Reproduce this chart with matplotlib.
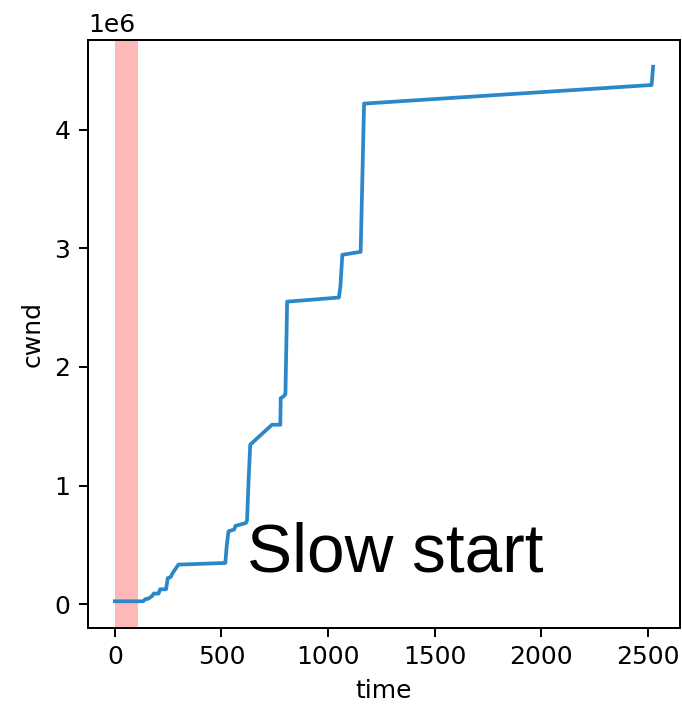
import numpy as np
import matplotlib
matplotlib.use('Agg')
import matplotlib.pyplot as plt

# cwnd trace (time, cwnd in units of 1e6)
time = [0, 132, 145, 155, 175, 182, 205, 212, 240, 248, 262, 270, 298,
        518, 525, 533, 560, 565, 615, 620, 627, 635, 737, 776, 778,
        790, 800, 808, 1051, 1058, 1067, 1153, 1169, 1176, 2518, 2525]
cwnd = [0.025, 0.025, 0.045, 0.045, 0.07, 0.09, 0.09, 0.126, 0.126,
        0.22, 0.23, 0.26, 0.334, 0.348, 0.5, 0.615, 0.63, 0.66, 0.685,
        0.707, 1.04, 1.345, 1.513, 1.513, 1.737, 1.75, 1.77, 2.55, 2.585,
        2.68, 2.945, 2.97, 4.22, 4.22, 4.376, 4.53]
span_start, span_end = 0, 108
note = "Slow start"

dpi = 180
fig = plt.figure(figsize=(682 / dpi, 707 / dpi), dpi=dpi)
ax = fig.add_axes([88 / 682, 1 - 628 / 707, 592 / 682, 588 / 707])

ax.plot(time, np.array(cwnd) * 1e6, color='#2b88c8', lw=1.5)
ax.axvspan(span_start, span_end, color='red', alpha=0.28, lw=0)
ax.set_xlabel("time")
ax.set_ylabel("cwnd")
ax.set_xticks([0, 500, 1000, 1500, 2000, 2500])
ax.text(620, 0.28e6, note, fontsize=27, family=['Liberation Sans', 'DejaVu Sans'],
        ha='left', va='baseline')

fig.savefig("out.png", dpi=dpi)
